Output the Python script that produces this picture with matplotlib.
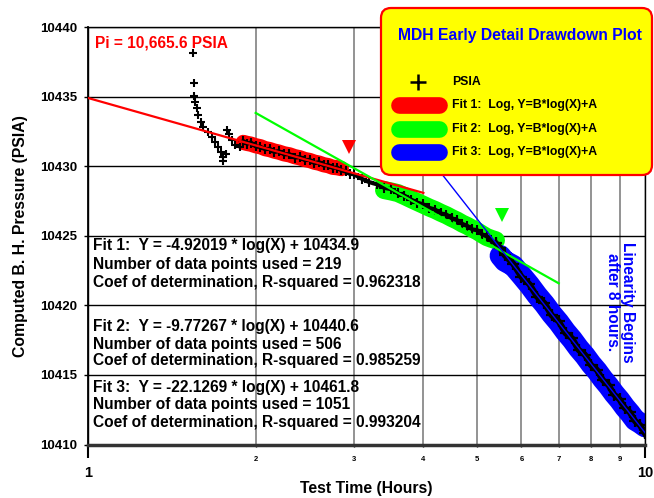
import numpy as np
import pandas as pd
import matplotlib.pyplot as plt
from matplotlib.patches import FancyBboxPatch

plt.rcParams['font.family'] = ['Liberation Sans', 'DejaVu Sans']
plt.rcParams['font.weight'] = 'bold'
plt.rcParams['axes.labelweight'] = 'bold'

# early time data (before the fitted periods)
early_time = [1.542, 1.550, 1.550, 1.556, 1.567, 1.578, 1.594, 1.611, 1.644, 1.668, 1.690,
              1.714, 1.730, 1.745, 1.750, 1.769, 1.779, 1.793, 1.811, 1.836, 1.875]
early_psia = [10438.11, 10435.99, 10435.04, 10434.63, 10434.15, 10433.67, 10433.19, 10432.78,
              10432.47, 10432.11, 10431.75, 10431.39, 10431.03, 10430.67, 10430.38, 10430.91,
              10432.59, 10432.30, 10431.87, 10431.51, 10431.39]

# data used for fit 1
fit1_time = [1.90, 1.93, 1.96, 2.00, 2.04, 2.08, 2.12, 2.16, 2.20, 2.25, 2.30, 2.35,
             2.40, 2.45, 2.50, 2.55, 2.60, 2.65, 2.70, 2.75, 2.80, 2.85]
fit1_psia = [10431.80, 10431.62, 10431.70, 10431.42, 10431.38, 10431.22, 10431.25, 10431.02,
             10431.08, 10430.85, 10430.86, 10430.62, 10430.65, 10430.44, 10430.45, 10430.22,
             10430.28, 10430.05, 10430.08, 10429.88, 10429.90, 10429.70]

# data between fit 1 and fit 2
gap_time = [2.90, 2.95, 3.00, 3.10, 3.20, 3.30]
gap_psia = [10429.62, 10429.45, 10429.42, 10429.10, 10428.85, 10428.70]

# data used for fit 2
fit2_time = [3.40, 3.50, 3.60, 3.70, 3.80, 3.90, 4.00, 4.10, 4.20, 4.30, 4.40, 4.50,
             4.60, 4.70, 4.80, 4.90, 5.00, 5.10, 5.20, 5.30, 5.40]
fit2_psia = [10428.45, 10428.35, 10428.05, 10427.88, 10427.60, 10427.38, 10427.25, 10427.00,
             10426.88, 10426.60, 10426.52, 10426.25, 10426.12, 10425.85, 10425.70, 10425.45,
             10425.40, 10425.10, 10424.95, 10424.62, 10424.45]

# data used for fit 3
fit3_time = [5.5, 5.6, 5.8, 6.0, 6.2, 6.4, 6.6, 6.8, 7.0, 7.2, 7.4, 7.6, 7.8, 8.0,
             8.2, 8.4, 8.6, 8.8, 9.0, 9.2, 9.4, 9.6, 9.8, 10.0]
fit3_psia = [10424.10, 10423.60, 10422.98, 10422.05, 10421.52, 10420.62, 10420.15, 10419.28,
             10418.85, 10418.00, 10417.62, 10416.80, 10416.45, 10415.70, 10415.35, 10414.62,
             10414.28, 10413.58, 10413.25, 10412.62, 10412.30, 10411.68, 10411.38, 10410.80]

# fit coefficients  Y = B*log(X) + A  and plotted ranges
fit_B = [-4.92019, -9.77267, -22.1269]
fit_A = [10434.9, 10440.6, 10461.8]
fit_range = [(1.0, 4.0), (2.0, 7.0), (3.5, 10.0)]
fit_npts = [219, 506, 1051]
fit_r2 = ['0.962318', '0.985259', '0.993204']
fit_colors = ['#FF0000', '#00FF00', '#0000FF']
band_width = [11, 13, 15.5]

# markers for period boundaries
marker_time = [2.945, 5.53]
marker_psia = [10431.35, 10426.47]

B = 'bold'

fig = plt.figure(figsize=(6.54, 4.98), dpi=100)
ax = fig.add_axes([88/654, 1 - 444.5/498, 557/654, 417.5/498])
ax.set_xscale('log')

# thick bands showing the points used in each fit (smoothed so the band stays even)
for t, p, c, w in zip([fit1_time, fit2_time, fit3_time], [fit1_psia, fit2_psia, fit3_psia],
                      fit_colors, band_width):
    ps = pd.Series(p).rolling(5, center=True, min_periods=1).mean()
    ax.plot(t, ps, color=c, lw=w, solid_capstyle='round', solid_joinstyle='round', zorder=2)

# measured data
ax.plot(early_time, early_psia, ls='none', marker='+', ms=6, mew=1.5, color='black', zorder=3)
all_t = fit1_time + gap_time + fit2_time
all_p = fit1_psia + gap_psia + fit2_psia
ax.plot(all_t, all_p, color='black', lw=3, marker='+', ms=7.5, mew=1.5, zorder=3)
ax.plot([fit2_time[-1]] + fit3_time, [fit2_psia[-1]] + fit3_psia, color='black', lw=4.5,
        marker='+', ms=9, mew=1.6, zorder=3)

# fitted lines
for b, a, (x0, x1), c in zip(fit_B, fit_A, fit_range, fit_colors):
    xx = np.array([x0, x1])
    ax.plot(xx, b*np.log(xx) + a, color=c, lw=1.6 if c != '#0000FF' else 1.0, zorder=4)

ax.plot(marker_time[0], marker_psia[0], 'v', color='#FF0000', ms=10, mew=0, zorder=4)
ax.plot(marker_time[1], marker_psia[1], 'v', color='#00FF00', ms=10, mew=0, zorder=4)

# axes formatting
ax.set_xlim(1, 10)
ax.set_ylim(10410, 10440)
yt = np.arange(10410, 10441, 5)
ax.set_yticks(yt, [str(v) for v in yt], fontweight=B)
ax.set_xticks([1, 10], ['1', '10'], fontweight=B)
ax.set_xticks(range(2, 10), [str(i) for i in range(2, 10)], minor=True, fontweight=B)
ax.tick_params(axis='x', which='major', length=9, width=1.5, pad=6.5, labelsize=10.5)
ax.tick_params(axis='x', which='minor', length=1.5, width=1, pad=7, labelsize=5.5)
ax.tick_params(axis='y', which='both', length=3, width=1, pad=5, labelsize=9.5)
ax.tick_params(axis='y', which='minor', length=0)
ax.grid(axis='y', which='major', color='black', lw=1)
ax.grid(axis='x', which='minor', color='#808080', lw=1.2)
ax.grid(axis='x', which='major', color='black', lw=1)
for s in ['top', 'right']:
    ax.spines[s].set_linewidth(1)
ax.spines['left'].set_linewidth(1.3)
ax.spines['bottom'].set_linewidth(2.5)
ax.spines['bottom'].set_color('#333333')

ax.set_xlabel('Test Time (Hours)', fontsize=11.3, fontweight=B)
ax.xaxis.set_label_coords(0.5, -0.088)
ax.set_ylabel('Computed B. H. Pressure (PSIA)', fontsize=11.3, fontweight=B)
ax.yaxis.set_label_coords(-0.108, 0.5)

# annotations
ax.text(0.0126, 0.962, 'Pi = 10,665.6 PSIA', transform=ax.transAxes, color='#FF0000',
        fontsize=11.2, fontweight=B, va='center', ha='left')
line_y = [[245, 265, 282], [327, 344, 360], [387, 404, 422]]
for i in range(3):
    lines = ['Fit %d:  Y = %s * log(X) + %s' % (i + 1, fit_B[i], fit_A[i]),
             'Number of data points used = %d' % fit_npts[i],
             'Coef of determination, R-squared = %s' % fit_r2[i]]
    for s, py in zip(lines, line_y[i]):
        ax.text(5/557, 1 - (py - 27)/417.5, s, transform=ax.transAxes, fontsize=11.2,
                fontweight=B, va='center', ha='left', zorder=5)

ax.text((620 - 88)/557, 1 - (302 - 27)/417.5, 'Linearity Begins\nafter 8 hours.',
        transform=ax.transAxes, rotation=-90, color='#0000FF', fontsize=11.2, fontweight=B,
        ha='center', va='center', multialignment='center', linespacing=0.95)

# legend box drawn in figure pixels
lax = fig.add_axes([0, 0, 1, 1], zorder=10)
lax.set_xlim(0, 654)
lax.set_ylim(498, 0)
lax.axis('off')
lax.add_patch(FancyBboxPatch((381, 8), 271, 167, boxstyle='round,pad=0,rounding_size=10',
                             facecolor='#FFFF00', edgecolor='#FF0000', lw=1.6))
lax.text(520, 35, 'MDH Early Detail Drawdown Plot', color='#0000FF', fontsize=11.3,
         fontweight=B, ha='center', va='center')
lax.plot(418, 82, marker='+', color='black', ms=11, mew=1.8)
lax.text(452, 82, 'PSIA', fontsize=8.8, fontweight=B, va='center')
for i, (c, py) in enumerate(zip(fit_colors, [105, 129, 152])):
    lax.plot([398.5, 438.5], [py, py], color=c, lw=12, solid_capstyle='round')
    lax.text(452, py, 'Fit %d:  Log, Y=B*log(X)+A' % (i + 1), fontsize=8.8, fontweight=B,
             va='center')

fig.savefig('out.png', dpi=100)
